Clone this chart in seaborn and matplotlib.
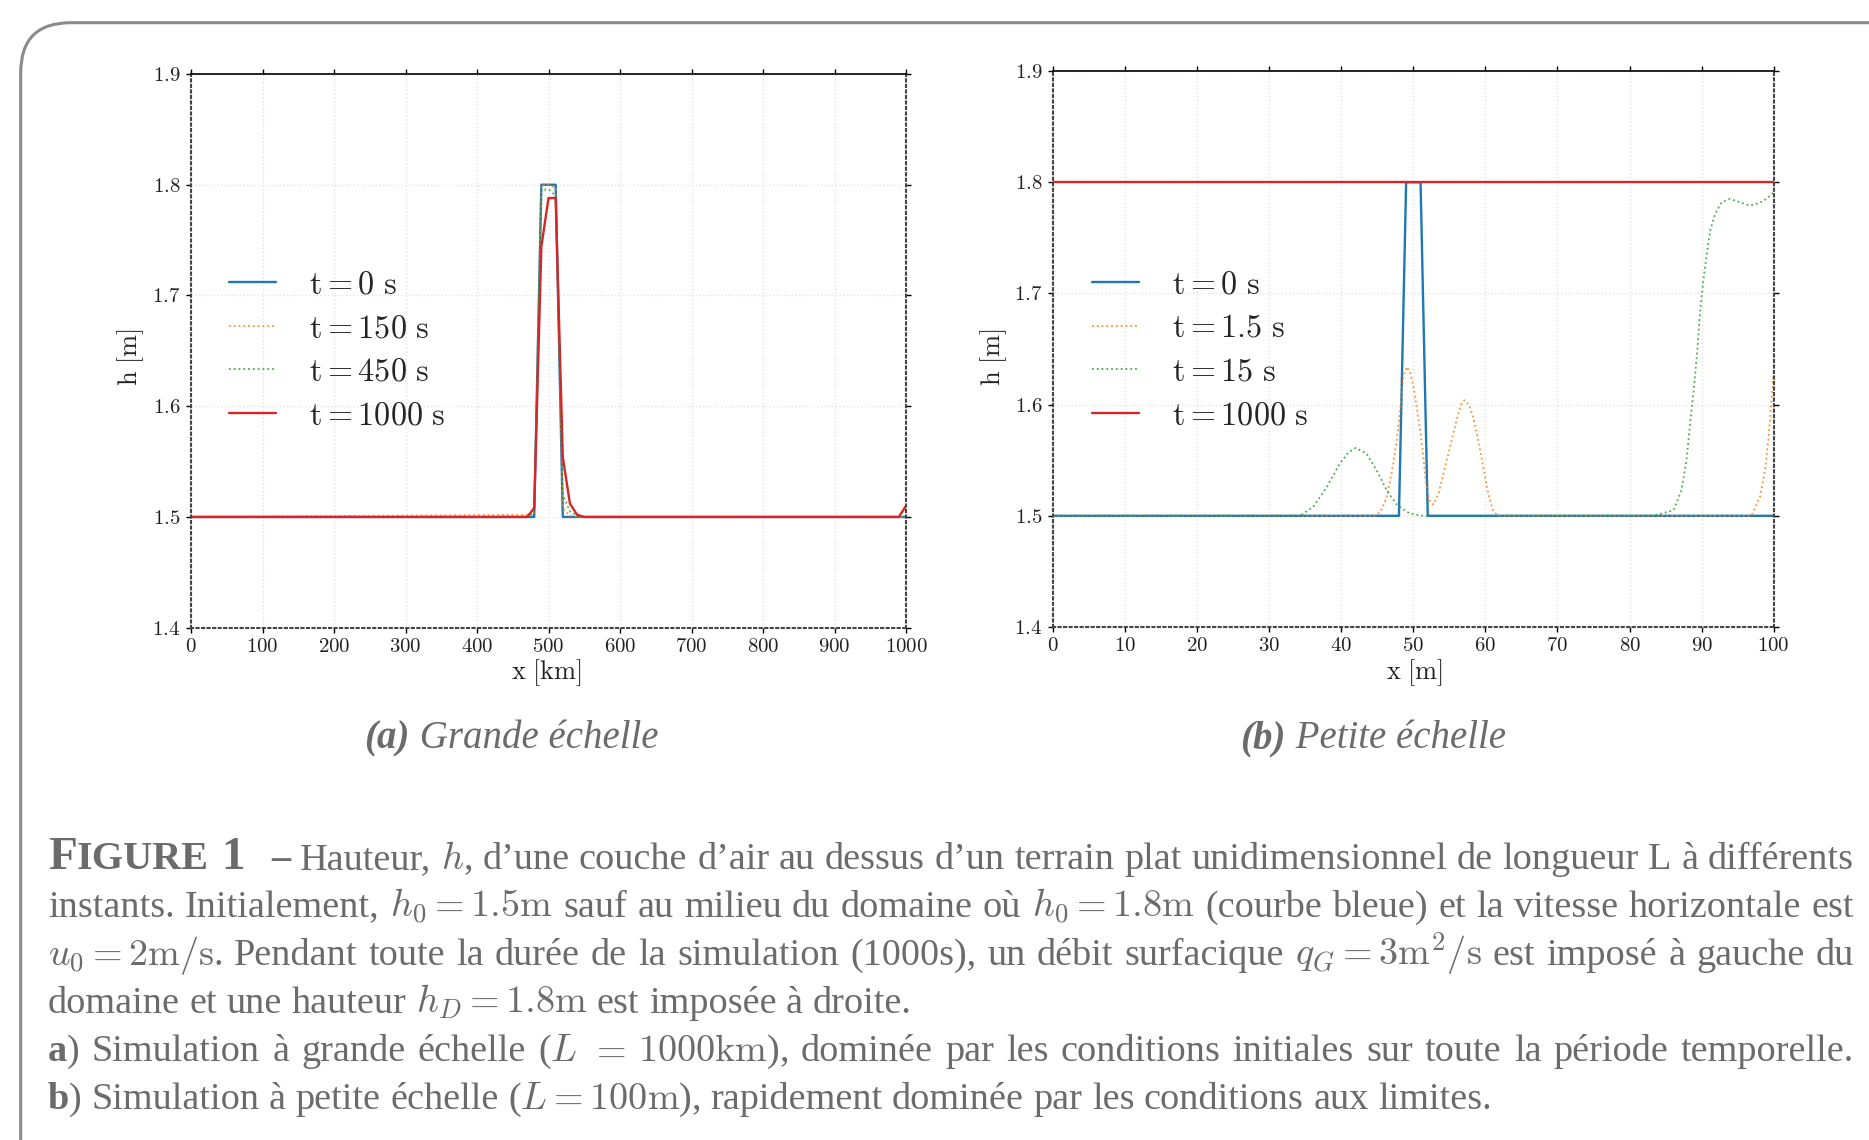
import matplotlib
matplotlib.use("Agg")
import matplotlib.pyplot as plt
import seaborn as sns
from matplotlib.patches import FancyBboxPatch
from matplotlib.transforms import IdentityTransform

# --- panel (a): grande echelle, x en km ---
xa_t0 = [0, 480, 490, 510, 520, 1000]
ha_t0 = [1.5, 1.5, 1.8, 1.8, 1.5, 1.5]
xa_t150 = [0, 480, 490, 500, 510, 520, 530, 540, 1000]
ha_t150 = [1.5, 1.502, 1.8, 1.8, 1.797, 1.508, 1.501, 1.5, 1.5]
xa_t450 = [0, 470, 480, 490, 500, 510, 520, 530, 540, 550, 1000]
ha_t450 = [1.5, 1.5, 1.504, 1.795, 1.796, 1.79, 1.52, 1.505, 1.501, 1.5, 1.5]
xa_t1000 = [0, 470, 480, 490, 500, 510, 520, 530, 540, 550, 990, 1000]
ha_t1000 = [1.5, 1.5, 1.508, 1.744, 1.788, 1.788, 1.554, 1.512, 1.502, 1.5,
            1.5, 1.51]
labels_a = ["t = 0 s", "t = 150 s", "t = 450 s", "t = 1000 s"]
xticks_a = [0, 100, 200, 300, 400, 500, 600, 700, 800, 900, 1000]

# --- panel (b): petite echelle, x en m ---
xb_t0 = [0, 48, 49, 51, 52, 100]
hb_t0 = [1.5, 1.5, 1.8, 1.8, 1.5, 1.5]
xb_t1 = [0, 44.5, 45.4, 46.3, 47.0, 47.7, 48.2, 48.6, 49.1, 49.6, 50.1, 50.8,
         51.3, 51.7, 52.2, 52.8, 53.5, 54.4, 55.1, 56.0, 56.6, 57.1, 57.7,
         58.3, 59.0, 59.7, 60.4, 61.1, 61.8, 96.9, 98.1, 98.8, 99.3, 99.7, 100]
hb_t1 = [1.5, 1.5, 1.503, 1.517, 1.539, 1.568, 1.598, 1.625, 1.634, 1.628,
         1.613, 1.583, 1.559, 1.532, 1.514, 1.510, 1.520, 1.544, 1.562, 1.586,
         1.600, 1.604, 1.600, 1.589, 1.568, 1.544, 1.520, 1.504, 1.5, 1.5,
         1.517, 1.541, 1.571, 1.604, 1.63]
xb_t15 = [0, 34.3, 36.1, 38.0, 39.8, 41.0, 42.0, 43.5, 44.9, 46.3, 47.7, 49.5,
          51.3, 83.3, 86.1, 87.2, 87.9, 88.4, 88.9, 89.4, 89.8, 90.3, 90.8,
          91.2, 91.9, 92.8, 93.9, 95.3, 96.7, 97.9, 99.0, 100]
hb_t15 = [1.5, 1.5, 1.508, 1.526, 1.547, 1.557, 1.561, 1.556, 1.541, 1.523,
          1.510, 1.502, 1.5, 1.5, 1.505, 1.523, 1.550, 1.583, 1.613, 1.649,
          1.685, 1.715, 1.739, 1.757, 1.772, 1.782, 1.785, 1.782, 1.779,
          1.781, 1.785, 1.791]
xb_t1000 = [0, 100]
hb_t1000 = [1.8, 1.8]
labels_b = ["t = 0 s", "t = 1.5 s", "t = 15 s", "t = 1000 s"]
xticks_b = [0, 10, 20, 30, 40, 50, 60, 70, 80, 90, 100]

hticks = [1.4, 1.5, 1.6, 1.7, 1.8, 1.9]
colors = ["#1f77b4", "#ff7f0e", "#2ca02c", "#d62728"]
styles = ["-", ":", ":", "-"]

W, H = 1869, 1140
GREY = "#6b6b6b"

sns.set_style("white")
plt.rcParams["mathtext.fontset"] = "cm"
plt.rcParams["font.family"] = ["Liberation Serif", "DejaVu Serif"]

fig = plt.figure(figsize=(W / 100, H / 100), dpi=100)


def fy(py):
    return 1 - py / H


def tex(s):
    # texte droit en police Computer Modern via mathtext
    return "$\\mathrm{" + s.replace(" ", "\\ ") + "}$"


def legend_label(s):
    t, rest = s.split(" = ")
    return "$\\mathrm{" + t + "} = " + rest.replace(" s", "\\ \\mathrm{s}") + "$"


def draw_panel(rect, xs, hs, labels, xticks, xlabel, leg_anchor, lab_pos):
    ax = fig.add_axes(rect)
    for x, h, lab, c, ls in zip(xs, hs, labels, colors, styles):
        if ls == "-":
            kw = dict(lw=1.7)
        else:
            kw = dict(lw=1.3, alpha=0.85)
        sns.lineplot(x=x, y=h, ax=ax, color=c, linestyle=ls,
                     label=legend_label(lab), sort=False, **kw)
    ax.set_xlim(xticks[0], xticks[-1])
    ax.set_ylim(1.4, 1.9)
    ax.set_xticks(xticks, labels=[f"${v}$" for v in xticks])
    ax.set_yticks(hticks, labels=[f"${v:.1f}$" for v in hticks])
    ax.tick_params(direction="out", length=3.5, width=1, top=True, right=True,
                   bottom=True, left=True, labelsize=15, pad=4,
                   color="black", labelcolor="#222222")
    ax.grid(True, linestyle=":", color="#e2e2e2", lw=1)
    for side in ["left", "bottom", "right"]:
        ax.spines[side].set_linestyle(":")
        ax.spines[side].set_color("#444444")
        ax.spines[side].set_linewidth(1.5)
    ax.spines["top"].set_color("black")
    ax.spines["top"].set_linewidth(1.2)
    ax.set_xlabel(tex(xlabel), fontsize=19, color="#222222", va="center")
    ax.xaxis.set_label_coords(lab_pos[0], lab_pos[1])
    ax.set_ylabel(tex("h [m]"), fontsize=19, color="#222222", va="center",
                  ha="center")
    ax.yaxis.set_label_coords(lab_pos[2], lab_pos[3])
    ax.legend(loc="center left", bbox_to_anchor=leg_anchor, frameon=False,
              fontsize=23.2, borderpad=0, borderaxespad=0, handlelength=1.45,
              handletextpad=1.05, labelspacing=0.44)
    return ax


draw_panel([191 / W, 1 - 627.7 / H, 715 / W, 553.7 / H],
           [xa_t0, xa_t150, xa_t450, xa_t1000],
           [ha_t0, ha_t150, ha_t450, ha_t1000],
           labels_a, xticks_a, "x [km]", (0.053, 0.4995),
           (0.4965, -0.082, -0.084, 0.489))
draw_panel([1053 / W, 1 - 627 / H, 720.7 / W, 556 / H],
           [xb_t0, xb_t1, xb_t15, xb_t1000],
           [hb_t0, hb_t1, hb_t15, hb_t1000],
           labels_b, xticks_b, "x [m]", (0.054, 0.4965),
           (0.501, -0.082, -0.083, 0.486))

# cadre arrondi
fig.add_artist(FancyBboxPatch((20.7, -300), 2500, 1117.3 + 300,
                              boxstyle="round,pad=0,rounding_size=50",
                              transform=IdentityTransform(), fill=False,
                              ec="#8a8a8a", lw=2.2))

renderer = fig.canvas.get_renderer()
FS = 27.5
STYLES = {
    "n": dict(fontsize=FS),
    "b": dict(fontsize=FS, fontweight="bold"),
    "big": dict(fontsize=34, fontweight="bold"),
    "sc": dict(fontsize=29, fontweight="bold"),
    "i": dict(fontsize=28, fontstyle="italic"),
    "bi": dict(fontsize=28, fontstyle="italic", fontweight="bold"),
}


def seg_width(txt, st):
    if st == "gap":
        return float(txt)
    t = fig.text(0, 0, txt, color=GREY, **STYLES[st])
    w = t.get_window_extent(renderer).width
    t.remove()
    return w


def word_width(word):
    return sum(seg_width(s, st) for s, st in word)


def put_word(x, y, word):
    for s, st in word:
        if st != "gap":
            fig.text(x / W, fy(y), s, color=GREY, va="baseline", ha="left",
                     **STYLES[st])
        x += seg_width(s, st)


def caption_line(y, words, justify, x0=48, x1=1854, space=9.5):
    words = [[(w, "n")] if isinstance(w, str) else w for w in words]
    widths = [word_width(w) for w in words]
    gap = (x1 - x0 - sum(widths)) / (len(words) - 1) if justify else space
    x = x0
    for w, ww in zip(words, widths):
        put_word(x, y, w)
        x += ww + gap


head = [("F", "big"), ("IGURE", "sc"), ("12", "gap"), ("1", "big"),
        ("27", "gap"), ("–", "b")]
line1 = [head] + \
    "Hauteur, $h$, d’une couche d’air au dessus d’un terrain plat unidimensionnel de longueur L à différents".split()
line2 = r"instants. Initialement, $h_0=1.5\mathrm{m}$ sauf au milieu du domaine où $h_0=1.8\mathrm{m}$ (courbe bleue) et la vitesse horizontale est".split()
line3 = r"$u_0=2\mathrm{m/s}$. Pendant toute la durée de la simulation (1000s), un débit surfacique $q_G=3\mathrm{m}^2/\mathrm{s}$ est imposé à gauche du".split()
line4 = r"domaine et une hauteur $h_D=1.8\mathrm{m}$ est imposée à droite.".split()
line5 = [[("a", "b"), (")", "n")]] + \
    r"Simulation à grande échelle ($L$ $=$ $1000\mathrm{km}$), dominée par les conditions initiales sur toute la période temporelle.".split()
line6 = [[("b", "b"), (")", "n")]] + \
    r"Simulation à petite échelle ($L=100\mathrm{m}$), rapidement dominée par les conditions aux limites.".split()

caption_line(869, line1, True)
caption_line(917, line2, True)
caption_line(965, line3, True)
caption_line(1013, line4, False)
caption_line(1061, line5, True)
caption_line(1109, line6, False)


def sub_caption(cx, y, tag, text):
    word = [(tag, "bi"), (" " + text, "i")]
    total = word_width(word)
    put_word(cx - total / 2, y, word)


sub_caption(511, 748, "(a)", "Grande échelle")
sub_caption(1373, 748, "(b)", "Petite échelle")

fig.savefig("out.png", dpi=100)
